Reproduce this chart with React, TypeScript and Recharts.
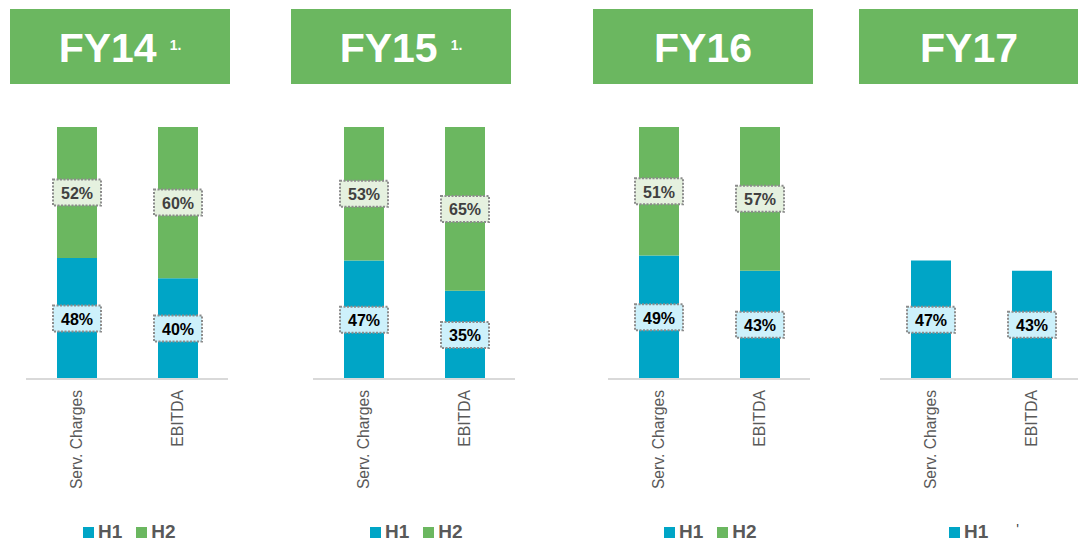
import React from 'react';
import { BarChart, Bar, XAxis, YAxis, LabelList, Legend } from 'recharts';

const periods = ['FY14', 'FY15', 'FY16', 'FY17'];
const periodNotes = ['1.', '1.', '', ''];
const categories = ['Serv. Charges', 'EBITDA'];
const h1Share = [[48, 40], [47, 35], [49, 43], [47, 43]];
const h2Share: (number | null)[][] = [[52, 60], [53, 65], [51, 57], [null, null]];
const seriesNames = ['H1', 'H2'];
const legendExtras = ['', '', '', "'"];

const GREEN = '#6bb760';
const BLUE = '#00a5c6';
const FONT = 'Arial, "Liberation Sans", sans-serif';

// layout of the four panels (px in the page)
const chartLefts = [26, 313, 608, 880];
const headerLefts = [10, 291, 593, 859];
const legendLefts = [83, 370, 664, 949];

const makeLabel = (fill: string, color: string) => (props: any) => {
  const { x, y, width, height, value } = props;
  if (value == null) return null;
  const cx = x + width / 2;
  const cy = y + height / 2;
  return (
    <g>
      <rect x={cx - 24} y={cy - 13} width={48} height={26} fill={fill} stroke="#8c8c8c" strokeWidth={2} strokeDasharray="2 1.5" />
      <text x={cx} y={cy + 6.5} textAnchor="middle" fontSize={16} fontWeight="bold" fill={color} fontFamily={FONT}>
        {value}%
      </text>
    </g>
  );
};

const CategoryTick = ({ x, y, payload }: any) => (
  <text
    transform={`translate(${x},${y + 3}) rotate(-90)`}
    textAnchor="end"
    dy="0.38em"
    fontSize={15.7}
    fill="#595959"
    fontFamily={FONT}
  >
    {payload.value}
  </text>
);

const makeLegend = (extra: string) => ({ payload }: any) => (
  <div style={{ display: 'flex', alignItems: 'center', fontFamily: FONT, whiteSpace: 'nowrap', height: 18 }}>
    {(payload || []).map((p: any) => (
      <div key={p.value} style={{ display: 'flex', alignItems: 'center', marginRight: 14 }}>
        <span style={{ width: 11, height: 11, background: p.color, display: 'inline-block', marginRight: 4 }} />
        <span style={{ fontSize: 19, lineHeight: '18px', fontWeight: 'bold', color: '#595959' }}>{p.value}</span>
      </div>
    ))}
    {extra && (
      <span style={{ fontSize: 14, lineHeight: '14px', color: '#404040', marginLeft: 14, position: 'relative', top: -3 }}>{extra}</span>
    )}
  </div>
);

function Panel({ i }: { i: number }) {
  const data = categories.map((c, k) => ({ name: c, h1: h1Share[i][k], h2: h2Share[i][k] }));
  const hasH2 = h2Share[i].some((v) => v != null);
  return (
    <div style={{ position: 'absolute', left: chartLefts[i], top: 0 }}>
      <BarChart width={202} height={542} data={data} margin={{ top: 127, right: 0, left: 0, bottom: 33 }}>
        <YAxis hide domain={[0, 100]} />
        <XAxis
          dataKey="name"
          interval={0}
          height={130}
          tickLine={false}
          axisLine={{ stroke: '#d9d9d9', strokeWidth: 2 }}
          tick={<CategoryTick />}
        />
        <Legend
          layout="horizontal"
          verticalAlign="middle"
          align="center"
          wrapperStyle={{ left: legendLefts[i] - chartLefts[i], top: 523, width: 'auto' }}
          content={makeLegend(legendExtras[i])}
        />
        <Bar dataKey="h1" name={seriesNames[0]} stackId="s" fill={BLUE} barSize={40} isAnimationActive={false}>
          <LabelList dataKey="h1" content={makeLabel('#cdf1fb', '#000000')} />
        </Bar>
        {hasH2 && (
          <Bar dataKey="h2" name={seriesNames[1]} stackId="s" fill={GREEN} barSize={40} isAnimationActive={false}>
            <LabelList dataKey="h2" content={makeLabel('#e5f1df', '#404040')} />
          </Bar>
        )}
      </BarChart>
    </div>
  );
}

export default function App() {
  return (
    <div style={{ position: 'absolute', left: 0, top: 0, width: 1078, height: 542, overflow: 'hidden', background: '#fff', fontFamily: FONT }}>
      {periods.map((p, i) => (
        <div
          key={p}
          style={{
            position: 'absolute',
            left: headerLefts[i],
            top: 9,
            width: 220,
            height: 72,
            paddingTop: 3,
            background: GREEN,
            color: '#fff',
            textAlign: 'center',
            fontSize: 41,
            lineHeight: '72px',
            fontWeight: 'bold',
            whiteSpace: 'nowrap',
          }}
        >
          {p}
          {periodNotes[i] && (
            <span style={{ fontSize: 14, position: 'relative', top: -12, marginLeft: 13 }}>{periodNotes[i]}</span>
          )}
        </div>
      ))}
      {periods.map((p, i) => (
        <Panel key={p} i={i} />
      ))}
    </div>
  );
}
